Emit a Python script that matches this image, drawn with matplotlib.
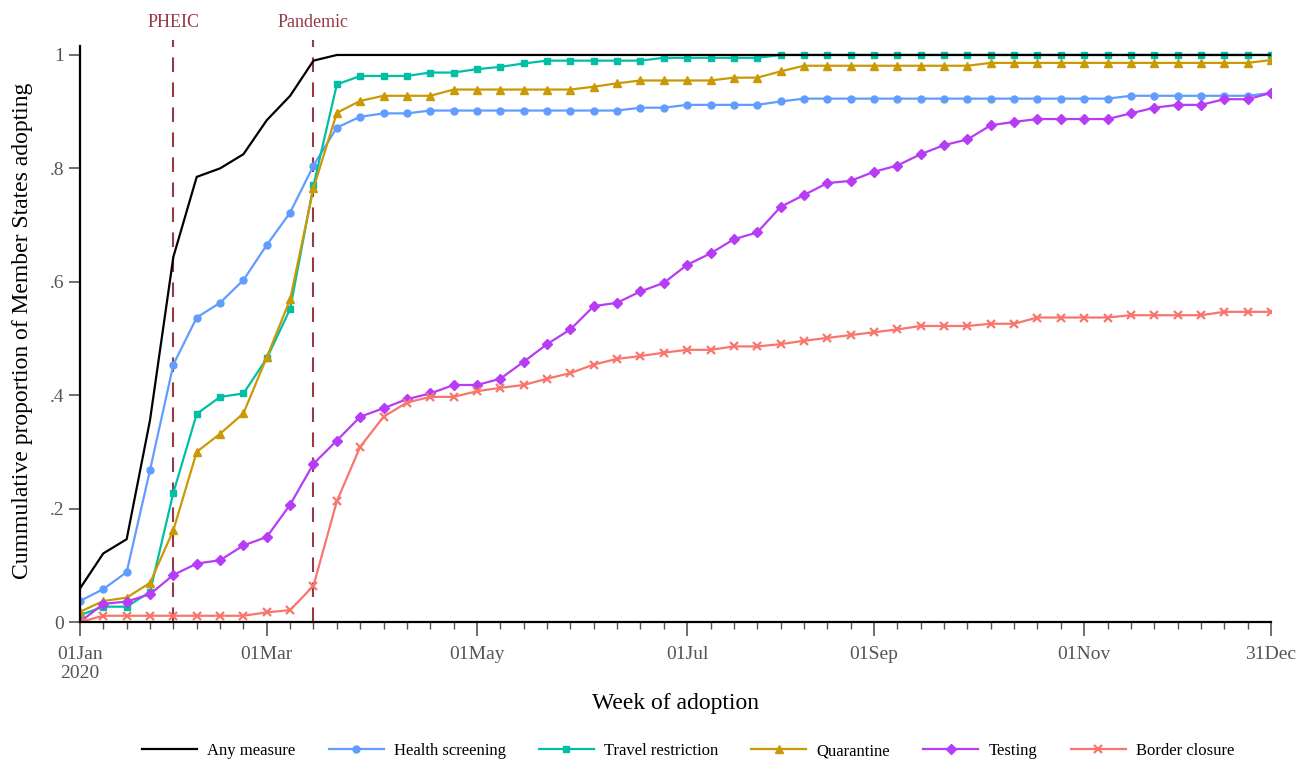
import numpy as np
import matplotlib
matplotlib.use("Agg")
import matplotlib.pyplot as plt

plt.rcParams['font.family'] = ['Liberation Serif', 'DejaVu Serif']

# week index since 01 Jan 2020
weeks = list(range(52))

any_measure = [0.059, 0.121, 0.146, 0.356, 0.644, 0.785, 0.800, 0.825, 0.885, 0.928,
               0.990] + [1.0] * 41

health_screening = [0.037, 0.058, 0.088, 0.268, 0.454, 0.537, 0.563, 0.603, 0.665, 0.722,
                    0.805, 0.872, 0.891, 0.897, 0.897, 0.902, 0.902, 0.902, 0.902, 0.902,
                    0.902, 0.902, 0.902, 0.902, 0.907, 0.907, 0.912, 0.912, 0.912, 0.912,
                    0.918, 0.923, 0.923, 0.923, 0.923, 0.923, 0.923, 0.923, 0.923, 0.923,
                    0.923, 0.923, 0.923, 0.923, 0.923, 0.928, 0.928, 0.928, 0.928, 0.928,
                    0.928, 0.933]

travel_restriction = [0.012, 0.027, 0.027, 0.053, 0.228, 0.367, 0.397, 0.403, 0.465, 0.552,
                      0.770, 0.948, 0.963, 0.963, 0.963, 0.969, 0.969, 0.975, 0.979, 0.985,
                      0.990, 0.990, 0.990, 0.990, 0.990, 0.995, 0.995, 0.995, 0.995, 0.995,
                      1.0, 1.0, 1.0, 1.0, 1.0, 1.0, 1.0, 1.0, 1.0, 1.0,
                      1.0, 1.0, 1.0, 1.0, 1.0, 1.0, 1.0, 1.0, 1.0, 1.0,
                      1.0, 1.0]

quarantine = [0.018, 0.037, 0.043, 0.069, 0.162, 0.300, 0.332, 0.368, 0.467, 0.569,
              0.765, 0.898, 0.919, 0.928, 0.928, 0.928, 0.939, 0.939, 0.939, 0.939,
              0.939, 0.939, 0.944, 0.950, 0.955, 0.955, 0.955, 0.955, 0.960, 0.960,
              0.971, 0.981, 0.981, 0.981, 0.981, 0.981, 0.981, 0.981, 0.981, 0.986,
              0.986, 0.986, 0.986, 0.986, 0.986, 0.986, 0.986, 0.986, 0.986, 0.986,
              0.986, 0.991]

testing = [0.0, 0.032, 0.036, 0.049, 0.083, 0.103, 0.109, 0.135, 0.150, 0.207,
           0.279, 0.320, 0.362, 0.377, 0.393, 0.403, 0.418, 0.418, 0.429, 0.459,
           0.490, 0.516, 0.557, 0.563, 0.583, 0.598, 0.630, 0.650, 0.675, 0.687,
           0.732, 0.753, 0.774, 0.778, 0.794, 0.805, 0.825, 0.841, 0.851, 0.876,
           0.882, 0.887, 0.887, 0.887, 0.887, 0.897, 0.907, 0.912, 0.912, 0.922,
           0.922, 0.933]

border_closure = [0.0, 0.011, 0.011, 0.011, 0.011, 0.011, 0.011, 0.011, 0.017, 0.021,
                  0.064, 0.213, 0.309, 0.362, 0.387, 0.397, 0.397, 0.407, 0.413, 0.418,
                  0.429, 0.439, 0.454, 0.464, 0.469, 0.475, 0.480, 0.480, 0.486, 0.486,
                  0.490, 0.496, 0.501, 0.506, 0.511, 0.516, 0.522, 0.522, 0.522, 0.526,
                  0.526, 0.537, 0.537, 0.537, 0.537, 0.541, 0.541, 0.541, 0.541, 0.547,
                  0.547, 0.547]

tick_weeks = [0, 8, 17, 26, 34, 43, 51]
tick_labels = ['01Jan\n2020', '01Mar', '01May', '01Jul', '01Sep', '01Nov', '31Dec']
events = [4, 10]
event_labels = ['PHEIC', 'Pandemic']

fig = plt.figure(figsize=(12.98, 7.59), dpi=100)
ax = fig.add_axes([0.0616, 0.1805, 0.9176, 0.7665])

red = '#963a45'
for w, lab in zip(events, event_labels):
    ax.axvline(w, color=red, lw=1.5, ls=(0, (7, 5)), zorder=1)
    ax.text(w, 1.031, lab, color=red, ha='center', va='center', fontsize=13,
            transform=ax.get_xaxis_transform(), clip_on=False)

ax.plot(weeks, any_measure, color='black', lw=1.6, label='Any measure', zorder=3)
ax.plot(weeks, health_screening, color='#619CFF', lw=1.6, marker='o', ms=5,
        label='Health screening')
ax.plot(weeks, travel_restriction, color='#00BFA5', lw=1.6, marker='s', ms=5,
        label='Travel restriction')
ax.plot(weeks, quarantine, color='#C99A06', lw=1.6, marker='^', ms=6,
        label='Quarantine')
ax.plot(weeks, testing, color='#B63CF5', lw=1.6, marker='D', ms=5,
        label='Testing')
ax.plot(weeks, border_closure, color='#F8766D', lw=1.6, marker='x', ms=6, mew=1.6,
        label='Border closure')

ax.set_xlim(0, 51)
ax.set_ylim(0, 1.026)
ax.set_xticks(tick_weeks)
ax.set_xticklabels(tick_labels)
ax.set_xticks(weeks, minor=True)
ax.set_yticks([0, 0.2, 0.4, 0.6, 0.8, 1.0])
ax.set_yticklabels(['0', '.2', '.4', '.6', '.8', '1'])

for s in ['top', 'right']:
    ax.spines[s].set_visible(False)
ax.spines['left'].set_bounds(0, 1.015)
ax.spines['left'].set_linewidth(1.6)
ax.spines['bottom'].set_linewidth(1.6)
ax.tick_params(axis='both', which='major', labelsize=14, colors='#555555',
               labelcolor='#555555', length=8, width=1.2)
ax.tick_params(axis='x', which='minor', length=5, width=1.0, colors='#555555')
ax.tick_params(axis='x', which='major', length=10, pad=7)

ax.set_xlabel('Week of adoption', fontsize=17, labelpad=8)
ax.set_ylabel('Cummulative proportion of Member States adopting', fontsize=17,
              labelpad=12)

fig.legend(loc='lower center', bbox_to_anchor=(0.53, -0.02), ncol=6, frameon=False,
           fontsize=12, handlelength=3.3, handletextpad=0.6, columnspacing=2.0)

fig.savefig('out.png', dpi=100)
